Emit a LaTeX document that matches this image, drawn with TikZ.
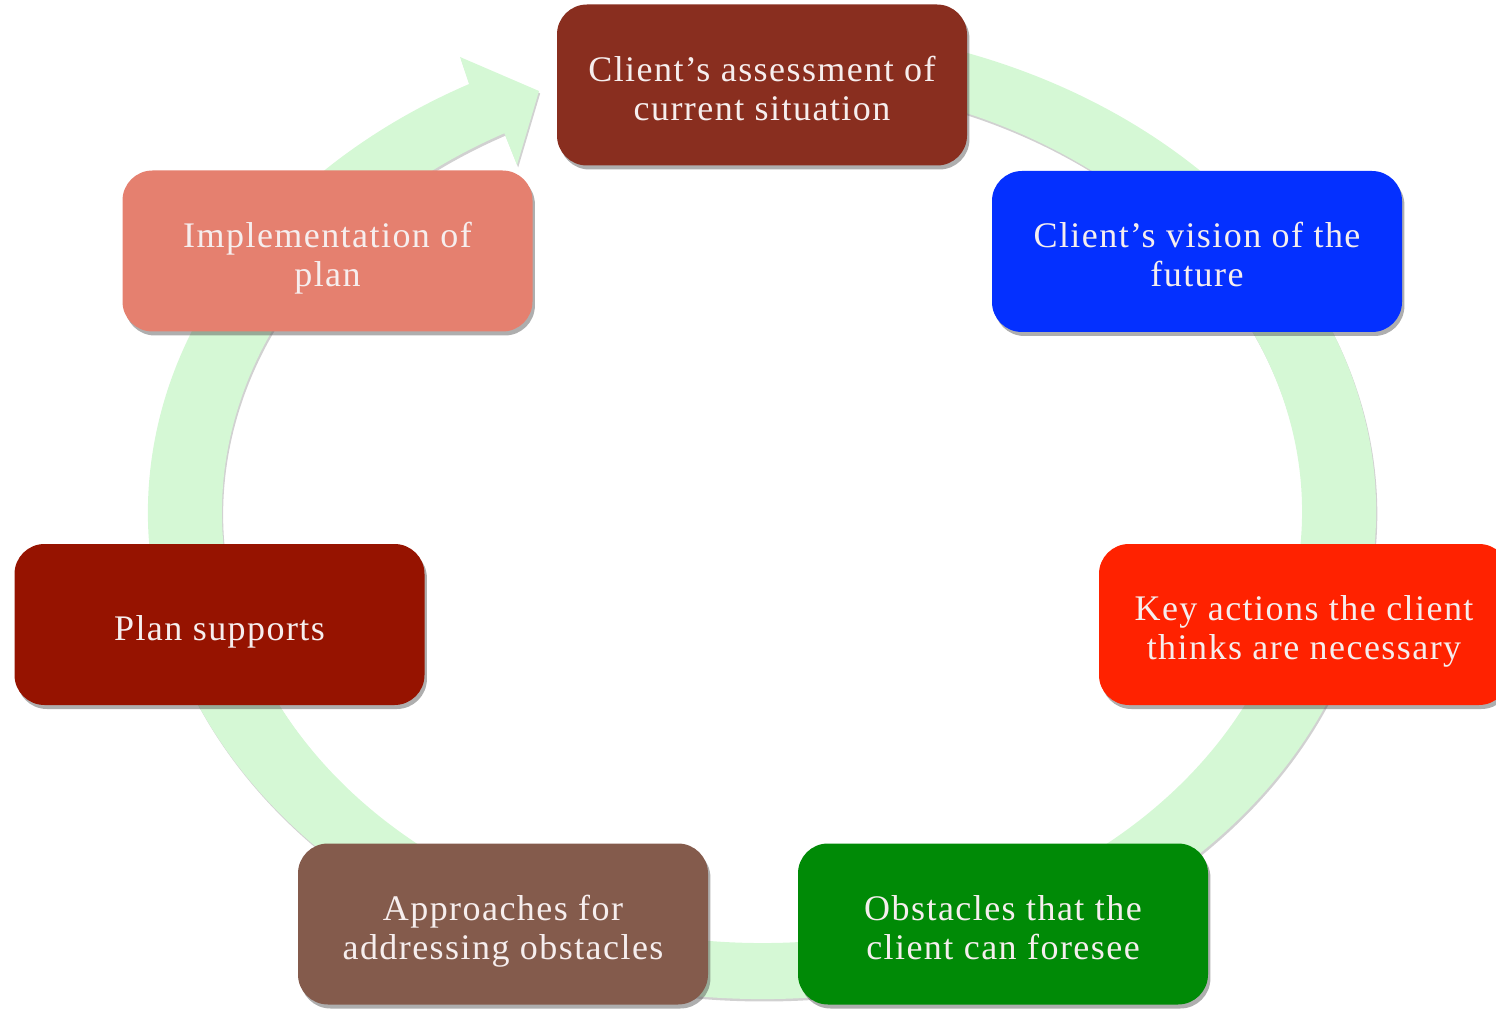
\documentclass[tikz,border=0pt]{standalone}
\usepackage{fontspec}
\setmainfont[LetterSpace=4]{Liberation Serif}
\usetikzlibrary{shadows,calc}
\definecolor{ringgreen}{RGB}{213,248,213}
\definecolor{cAssess}{RGB}{137,46,31}
\definecolor{cVision}{RGB}{4,48,255}
\definecolor{cActions}{RGB}{255,34,0}
\definecolor{cObst}{RGB}{0,138,6}
\definecolor{cAppr}{RGB}{132,91,76}
\definecolor{cPlan}{RGB}{150,19,0}
\definecolor{cImpl}{RGB}{229,128,111}
\definecolor{boxtext}{RGB}{246,238,238}
\newcommand\boxlines[1]{\begin{tabular}{@{}c@{}}\rule{0pt}{21.7pt}#1\end{tabular}}
\begin{document}
\begin{tikzpicture}[x=0.5pt,y=0.5pt,
  stepbox/.style={rounded corners=15pt, minimum width=205pt, minimum height=80.5pt,
    inner sep=0pt, text=boxtext,
    font=\fontsize{18}{19.5}\selectfont,
    drop shadow={shadow xshift=1.2pt, shadow yshift=-2pt, opacity=0.45, fill=black!70}},
  ringstyle/.style={fill=ringgreen,
    drop shadow={shadow xshift=0.6pt, shadow yshift=-1.2pt, opacity=0.3, fill=black!60}}
  ]
\useasboundingbox (0,0) rectangle (1496,1009);
\begin{scope}
\clip (0,0) rectangle (1496,1009);
% ring with arrow head
\path[ringstyle]
  (762,497) ++(80:614 and 487)
  arc[start angle=80, end angle=-241.5, x radius=614, y radius=487]
  -- (460,952) -- (539,918) -- (517,844)
  -- ($(762,497)+(-241.5:540 and 431)$)
  arc[start angle=-241.5, end angle=80, x radius=540, y radius=431]
  -- cycle;
% boxes
\node[stepbox, fill=cAssess]  (assess) at (762,924)    {\boxlines{Client’s assessment of\\current situation}};
\node[stepbox, fill=cVision]  (vision) at (1197,757.5) {\boxlines{Client’s vision of the\\future}};
\node[stepbox, fill=cActions] (actions) at (1304,384.5) {\boxlines{Key actions the client\\thinks are necessary}};
\node[stepbox, fill=cObst]    (obst) at (1003,85)      {\boxlines{Obstacles that the\\client can foresee}};
\node[stepbox, fill=cAppr]    (appr) at (503,85)       {\boxlines{Approaches for\\addressing obstacles}};
\node[stepbox, fill=cPlan]    (plan) at (219.5,384.5)  {\boxlines{Plan supports}};
\node[stepbox, fill=cImpl]    (impl) at (327.5,758)    {\boxlines{Implementation of\\plan}};
\end{scope}
\end{tikzpicture}
\end{document}
